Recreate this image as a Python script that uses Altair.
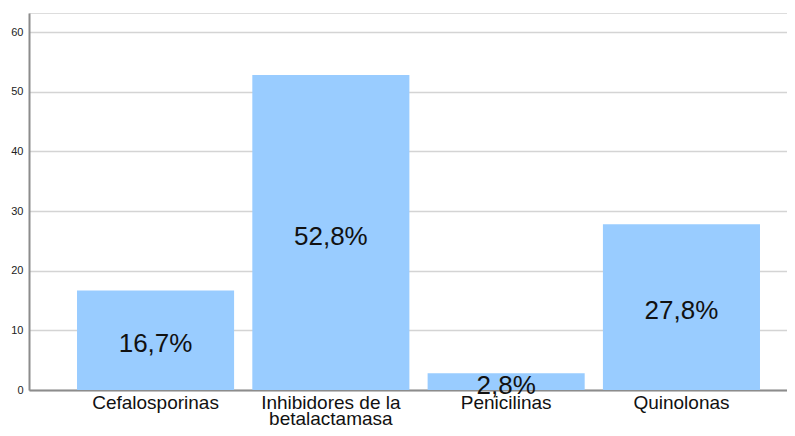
import altair as alt
import pandas as pd

categories = ["Cefalosporinas", "Inhibidores de la betalactamasa", "Penicilinas", "Quinolonas"]
values = [16.7, 52.8, 2.8, 27.8]
labels = ["16,7%", "52,8%", "2,8%", "27,8%"]
y_ticks = [0, 10, 20, 30, 40, 50, 60]

df = pd.DataFrame({"cat": categories, "val": values, "lab": labels})
df["half"] = df["val"] / 2

FONT = "Liberation Sans"

x = alt.X(
    "cat:N", sort=categories, title=None,
    scale=alt.Scale(paddingInner=0.104, paddingOuter=0.214, align=0.64),
    axis=alt.Axis(
        labelAngle=0, labelFont=FONT, labelFontSize=19, labelColor="#111111",
        labelPadding=3, tickSize=0, domainColor="#8c8c8c", domainWidth=2,
        labelLineHeight=16,
        labelExpr="datum.label == 'Inhibidores de la betalactamasa' ? ['Inhibidores de la', 'betalactamasa'] : datum.label",
    ),
)

bars = alt.Chart(df).mark_bar(color="#99CCFF").encode(
    x=x,
    y=alt.Y(
        "val:Q", title=None,
        scale=alt.Scale(domain=[0, 63.2], nice=False),
        axis=alt.Axis(
            values=y_ticks, labelFont=FONT, labelFontSize=11, labelColor="#222222",
            tickSize=0, labelPadding=6, domainColor="#8c8c8c", domainWidth=2,
            gridColor="#d4d4d4", gridWidth=1.5,
        ),
    ),
)

text = alt.Chart(df).mark_text(
    font=FONT, fontSize=26, color="#111111", baseline="middle", dy=4
).encode(
    x=alt.X("cat:N", sort=categories),
    y=alt.Y("half:Q"),
    text="lab:N",
)

chart = (bars + text).properties(
    width=758, height=377,
    autosize=alt.AutoSizeParams(type="none"),
    padding={"left": 21, "top": 5, "right": 0, "bottom": 38},
).configure_view(stroke=None).configure(background="white")

chart.save("out.html", embed_options={"renderer": "svg", "actions": False})
